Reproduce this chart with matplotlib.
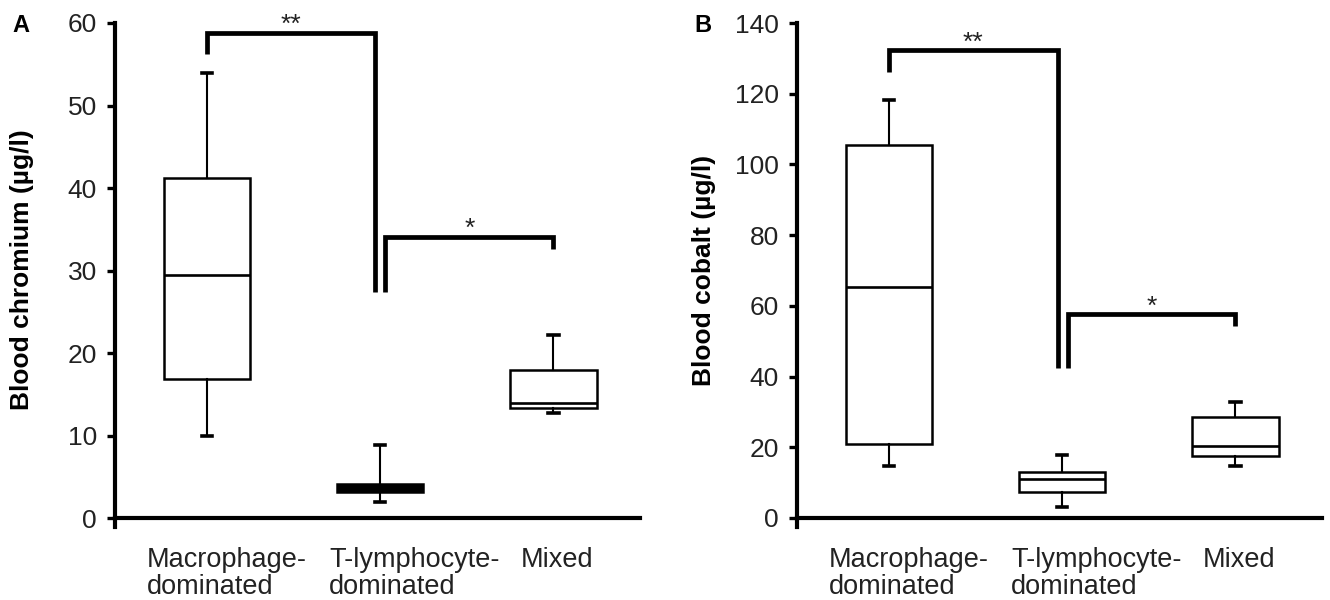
from matplotlib import pyplot as plt

plt.rcParams['font.family'] = ['Liberation Sans', 'DejaVu Sans']

# group names (two-line labels)
groups = ['Macrophage-\ndominated', 'T-lymphocyte-\ndominated', 'Mixed']

# panel A: blood chromium (ug/l)
cr_whislo = [10.0, 1.9, 12.7]
cr_q1 = [16.9, 3.2, 13.3]
cr_med = [29.4, 3.7, 13.9]
cr_q3 = [41.2, 4.1, 18.0]
cr_whishi = [54.0, 8.8, 22.2]
cr_fill = ['white', 'black', 'white']
# (x_left, y_left, x_right, y_right, y_top, label)
cr_brackets = [(1.0, 56.3, 1.97, 27.4, 58.8, '**'),
               (2.03, 27.4, 3.0, 32.6, 34.1, '*')]

# panel B: blood cobalt (ug/l)
co_whislo = [14.6, 3.0, 14.6]
co_q1 = [20.9, 7.4, 17.4]
co_med = [65.3, 11.0, 20.4]
co_q3 = [105.4, 13.0, 28.6]
co_whishi = [118.2, 17.7, 32.9]
co_fill = ['white', 'white', 'white']
co_brackets = [(1.0, 126.2, 1.975, 42.3, 132.3, '**'),
               (2.035, 42.3, 3.0, 54.3, 57.6, '*')]

TXT = '#222222'


def draw_panel(ax, whislo, q1, med, q3, whishi, fill, brackets, ymax, ystep, ymin, ylabel, letter):
    stats = []
    for i in range(len(groups)):
        stats.append(dict(whislo=whislo[i], q1=q1[i], med=med[i], q3=q3[i], whishi=whishi[i]))
    bp = ax.bxp(stats, positions=[1, 2, 3], widths=0.5, showfliers=False, manage_ticks=False,
                capwidths=0.06, patch_artist=True,
                boxprops=dict(edgecolor='black', facecolor='white', linewidth=1.8),
                whiskerprops=dict(color='black', linewidth=1.5),
                capprops=dict(color='black', linewidth=2.6),
                medianprops=dict(color='black', linewidth=1.9))
    for box, fc in zip(bp['boxes'], fill):
        box.set_facecolor(fc)

    for x0, y0, x1, y1, ytop, lab in brackets:
        ax.plot([x0, x0, x1, x1], [y0, ytop, ytop, y1], color='black', lw=3.4,
                solid_capstyle='butt', solid_joinstyle='miter', clip_on=False)
        ax.annotate(lab, xy=((x0 + x1) / 2, ytop), xytext=(0, 5.5), textcoords='offset points',
                    ha='center', va='center', fontsize=19, color=TXT, annotation_clip=False)

    ax.set_xlim(0.47, 3.5)
    ax.set_ylim(ymin, ymax)
    ax.set_yticks(range(0, ymax + 1, ystep))
    ax.set_xticks([])
    ax.spines['top'].set_visible(False)
    ax.spines['right'].set_visible(False)
    ax.spines['bottom'].set_position(('data', 0))
    ax.spines['left'].set_linewidth(3.0)
    ax.spines['bottom'].set_linewidth(3.0)
    ax.tick_params(axis='y', direction='out', length=6, width=2.4, pad=7,
                   labelsize=19, labelcolor=TXT)
    ax.set_ylabel(ylabel, fontsize=19, fontweight='bold', color='black')
    ax.yaxis.set_label_coords(-0.155, 0.51)

    label_x = [0.655, 1.705, 2.81]
    for x, g in zip(label_x, groups):
        ax.annotate(g, xy=(x, 0), xycoords='data', xytext=(0, -21), textcoords='offset points',
                    ha='left', va='top', fontsize=19.5, color=TXT, linespacing=1.06)

    ax.text(-0.18, 0.995, letter, transform=ax.transAxes, ha='center', va='center',
            fontsize=17, fontweight='bold', color='black')


fig = plt.figure(figsize=(13.3, 6), dpi=100)
axA = fig.add_axes([115 / 1330, 1 - 527 / 600, 525 / 1330, 504 / 600])
axB = fig.add_axes([797 / 1330, 1 - 527 / 600, 525 / 1330, 504 / 600])

draw_panel(axA, cr_whislo, cr_q1, cr_med, cr_q3, cr_whishi, cr_fill, cr_brackets,
           60, 10, -1.09, 'Blood chromium (µg/l)', 'A')
draw_panel(axB, co_whislo, co_q1, co_med, co_q3, co_whishi, co_fill, co_brackets,
           140, 20, -2.55, 'Blood cobalt (µg/l)', 'B')

fig.savefig('out.png', dpi=100)
